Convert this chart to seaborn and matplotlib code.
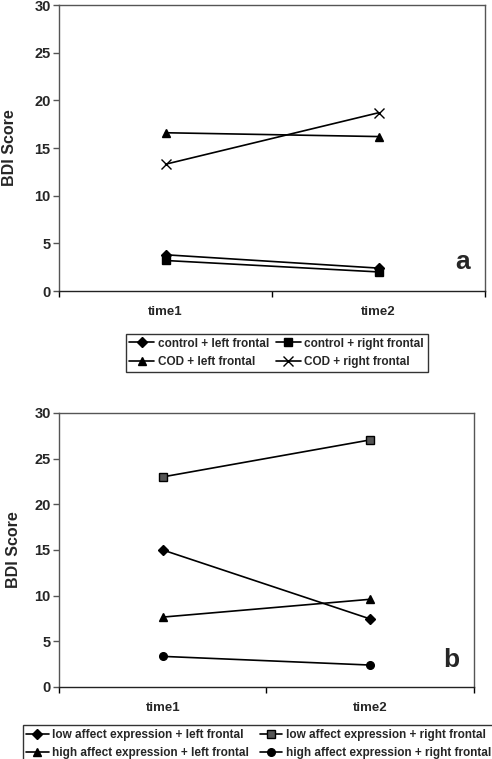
"""
Two-panel BDI score line chart (time1 vs time2), recreated with seaborn.
"""

import matplotlib
matplotlib.use("Agg")
import matplotlib.pyplot as plt
import seaborn as sns
import pandas as pd

# Data
times = ["time1", "time2"]
time_pos = [1, 2]

labels_a = ["control + left frontal", "control + right frontal",
            "COD + left frontal", "COD + right frontal"]
ctrl_left = [3.8, 2.4]
ctrl_right = [3.2, 2.0]
cod_left = [16.6, 16.2]
cod_right = [13.3, 18.7]

labels_b = ["low affect expression + left frontal",
            "low affect expression + right frontal",
            "high affect expression + left frontal",
            "high affect expression + right frontal"]
low_left = [15.0, 7.45]
low_right = [23.0, 27.05]
high_left = [7.65, 9.6]
high_right = [3.35, 2.4]

yticks = [0, 5, 10, 15, 20, 25, 30]

sns.set_style("white")
plt.rcParams['font.family'] = ['Liberation Sans', 'DejaVu Sans']
plt.rcParams['font.weight'] = 'bold'


def draw_panel(ax, series, labels, markers, facecolors, sizes, letter, label_x):
    for vals, lab, mk, fc, ms in zip(series, labels, markers, facecolors, sizes):
        df = pd.DataFrame({"time": time_pos, "score": vals})
        sns.lineplot(data=df, x="time", y="score", ax=ax, color='black',
                     linewidth=1.2, marker=mk, markersize=ms,
                     markerfacecolor=fc, markeredgecolor='black',
                     markeredgewidth=1.0, label=lab)
    ax.set_xlim(0.5, 2.5)
    ax.set_ylim(0, 30)
    ax.set_yticks(yticks)
    ax.set_yticklabels([str(v) for v in yticks], fontsize=10.5, fontweight='bold')
    ax.set_xticks([0.5, 1.5, 2.5])
    ax.set_xticklabels([])
    ax.set_xticks(time_pos, minor=True)
    ax.set_xticklabels(times, minor=True, fontsize=9.5, fontweight='bold')
    ax.tick_params(axis='x', which='minor', length=0, pad=11)
    ax.tick_params(axis='x', which='major', length=4, width=1, direction='out',
                   color='black', bottom=True)
    ax.tick_params(axis='y', length=4, width=1, direction='out', color='#555555',
                   left=True, pad=2)
    ax.set_xlabel("")
    ax.set_ylabel("BDI Score", fontsize=11.5, fontweight='bold')
    ax.yaxis.set_label_coords(label_x, 0.5)
    for side in ['top', 'right', 'left']:
        ax.spines[side].set_color('#555555')
        ax.spines[side].set_linewidth(1.0)
    ax.spines['bottom'].set_color('#222222')
    ax.spines['bottom'].set_linewidth(1.0)
    ax.text(0.965, 0.1, letter, transform=ax.transAxes, fontsize=19,
            fontweight='bold', ha='right', va='center')
    ax.grid(False)


def row_legend(ax, anchor, hlen, colspace):
    # matplotlib fills legend columns first; reorder so items read row by row
    handles, labels = ax.get_legend_handles_labels()
    order = [0, 2, 1, 3]
    leg = ax.legend([handles[i] for i in order], [labels[i] for i in order],
                    ncol=2, loc='upper left', bbox_to_anchor=anchor,
                    frameon=True, fancybox=False, edgecolor='black',
                    handlelength=hlen, handletextpad=0.3,
                    columnspacing=colspace, borderpad=0.3, labelspacing=0.55,
                    prop={'weight': 'bold', 'size': 8.5})
    leg.get_frame().set_linewidth(1.0)
    return leg


fig = plt.figure(figsize=(4.92, 7.59), dpi=100)

ax_a = fig.add_axes([0.120, 0.6166, 0.866, 0.3768])
draw_panel(ax_a, [ctrl_left, ctrl_right, cod_left, cod_right], labels_a,
           ['D', 's', '^', 'x'], ['black', 'black', 'black', 'black'],
           [5, 5.5, 6, 7], 'a', -0.098)
row_legend(ax_a, (0.143, -0.13), 2.1, 0.6)

ax_b = fig.add_axes([0.120, 0.0949, 0.843, 0.361])
draw_panel(ax_b, [low_left, low_right, high_left, high_right], labels_b,
           ['D', 's', '^', 'o'], ['black', '#555555', 'black', 'black'],
           [5, 5.5, 6, 5.5], 'b', -0.092)
row_legend(ax_b, (-0.102, -0.118), 1.9, 0.9)

fig.savefig("out.png", dpi=100)
plt.close(fig)
